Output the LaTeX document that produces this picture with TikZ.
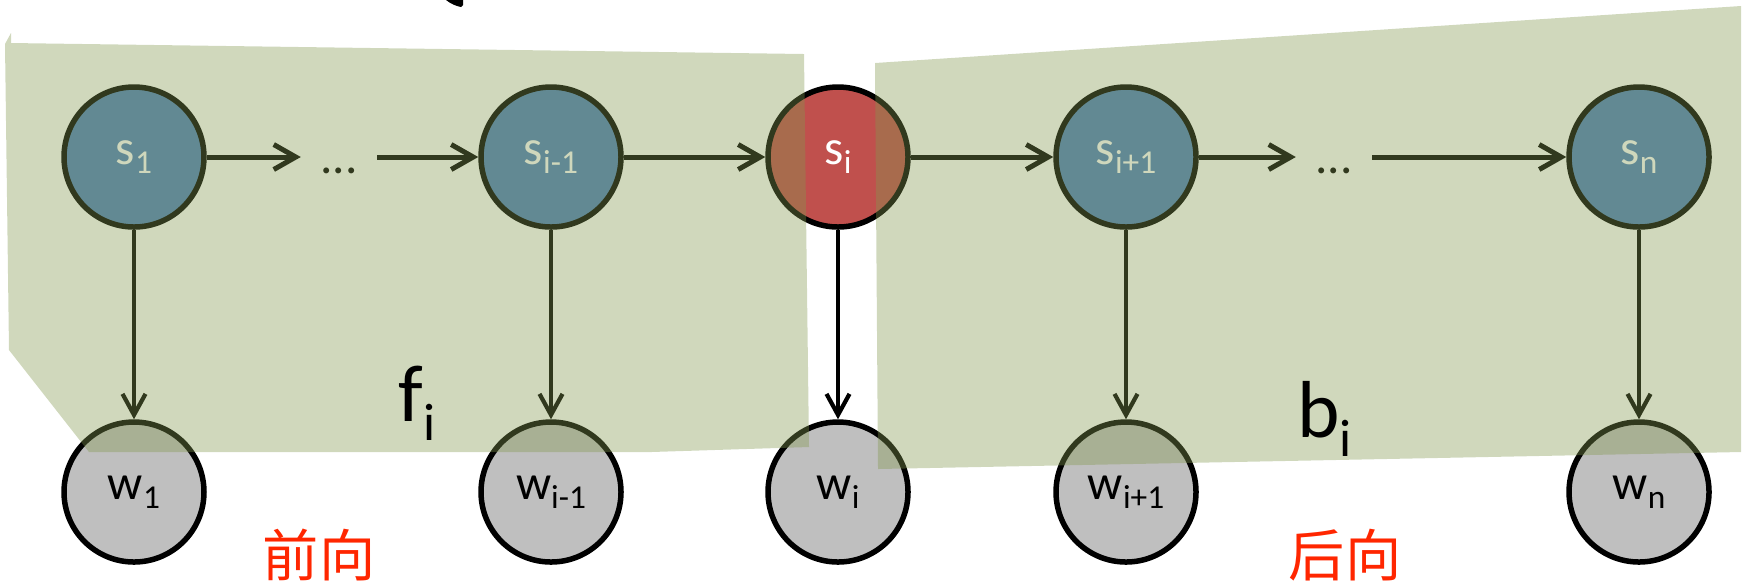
\documentclass[tikz,border=0pt]{standalone}
\usepackage{fontspec}
\setmainfont{Carlito}
\newfontfamily\cjk{Noto Sans CJK SC}
\usepackage{tikz}
\usetikzlibrary{arrows.meta, positioning}
\definecolor{stateblue}{RGB}{79, 129, 189}
\definecolor{statered}{RGB}{192, 80, 77}
\definecolor{wordgray}{RGB}{191, 191, 191}
\definecolor{panelgreen}{RGB}{131, 152, 79}
\definecolor{dirred}{RGB}{255, 38, 0}
\newcommand{\lsub}[1]{\raisebox{-0.9mm}{\fontsize{9.5}{10}\selectfont #1}}

\begin{document}
\begin{tikzpicture}[x=0.1mm, y=-0.1mm, font=\fontsize{14}{17}\selectfont,
  state/.style={circle, draw=black, line width=0.55mm, minimum size=14mm, inner sep=0pt, fill=stateblue, text=white},
  word/.style={state, fill=wordgray, text=black},
  dots/.style={inner sep=0pt, minimum width=7.5mm, text height=3.3mm, text depth=0pt},
  chain/.style={line width=0.5mm, -{Straight Barb[length=2.2mm, width=2.5mm]}},
  emit/.style={line width=0.42mm, -{Straight Barb[length=2.1mm, width=2.3mm]}},
  panel/.style={fill=panelgreen, fill opacity=0.38}]
  \useasboundingbox (0,0) rectangle (1746,587);

  \fill (446,0) .. controls (451,4) and (456,6) .. (461,7) -- (463,5) -- (463,0) -- cycle;

  \foreach \x/\n/\lab in {134/1/1, 551/im/i-1, 1126/ip/i+1, 1639/n/n} {
    \node[state] (s\n) at (\x,157) {s\lsub{\lab}};
  }
  \node[state, fill=statered] (si) at (838,157) {s\lsub{i}};
  \foreach \x/\n/\lab in {134/1/1, 551/im/i-1, 838/i/i, 1126/ip/i+1, 1639/n/n} {
    \node[word] (w\n) at (\x,492) {w\lsub{\lab}};
  }
  \node[dots] (dl) at (339,157) {...};
  \node[dots] (dr) at (1334,157) {...};

  \draw[chain] (s1) -- (dl);
  \draw[chain] (dl) -- (sim);
  \draw[chain] (sim) -- (si);
  \draw[chain] (si) -- (sip);
  \draw[chain] (sip) -- (dr);
  \draw[chain] (dr) -- (sn);
  \foreach \n in {1,im,i,ip,n} {
    \draw[emit] (s\n) -- (w\n);
  }

  \fill[panel] (5,44) -- (11,33) -- (11,43) -- (804,54) -- (809,447) -- (651,452) -- (89,452) -- (9,350) -- cycle;
  \fill[panel] (875,63) -- (1741,6) -- (1741,452) -- (878,469) -- cycle;

  \node[anchor=base west, font=\fontsize{23}{23}\selectfont] (fi) at (386,421) {f\raisebox{-1.9mm}{\fontsize{15}{15}\selectfont i}};
  \node[anchor=base west, font=\fontsize{23}{23}\selectfont] (bi) at (1285,437) {b\raisebox{-1.9mm}{\fontsize{15}{15}\selectfont i}};
  \node[text=dirred, font=\cjk\fontsize{16}{16}\selectfont] (fwd) at (319,555) {前向};
  \node[text=dirred, font=\cjk\fontsize{16}{16}\selectfont] (bwd) at (1345,555) {后向};
\end{tikzpicture}
\end{document}
